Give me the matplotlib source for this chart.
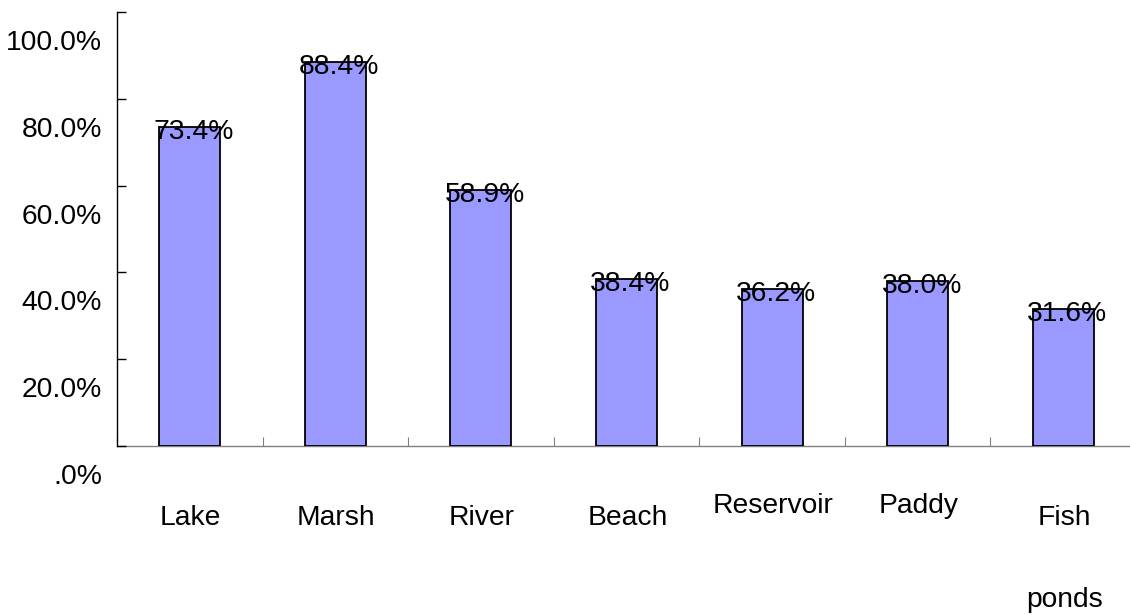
import matplotlib
matplotlib.use('Agg')
import matplotlib.pyplot as plt
import matplotlib.transforms as mtransforms
import numpy as np

categories = ["Lake", "Marsh", "River", "Beach", "Reservoir", "Paddy", "Fish\nponds"]
values = [73.4, 88.4, 58.9, 38.4, 36.2, 38.0, 31.6]
y_ticks = [0, 20, 40, 60, 80, 100]
y_tick_labels = [".0%", "20.0%", "40.0%", "60.0%", "80.0%", "100.0%"]

# per-label vertical nudge (px), the source chart staggers a couple of labels
label_dy = [0, 0, 0, 0, 12, 12, 0]

plt.rcParams['font.family'] = ['Liberation Sans', 'DejaVu Sans']
FS = 20.3
DPI = 100

fig = plt.figure(figsize=(11.3, 6.15), dpi=DPI)
W, H = 1130, 615
left, right, top, bottom = 117, 1136, 12, 446
ax = fig.add_axes([left / W, (H - bottom) / H, (right - left) / W, (bottom - top) / H])

x = np.arange(len(categories))
ax.bar(x, values, width=0.42, color='#9999FF', edgecolor='black', linewidth=1.3, zorder=2)

ax.set_xlim(-0.5, len(categories) - 0.5)
ax.set_ylim(0, 100)

for s in ['top', 'right']:
    ax.spines[s].set_visible(False)
ax.spines['left'].set_color('black')
ax.spines['left'].set_linewidth(1.0)
ax.spines['bottom'].set_color('#808080')
ax.spines['bottom'].set_linewidth(1.0)
ax.spines['bottom'].set_zorder(1)

def px(dx, dy):
    return mtransforms.ScaledTranslation(dx / DPI, dy / DPI, fig.dpi_scale_trans)

# y ticks: marks on the axis, labels drawn shifted down like the original
ax.set_yticks(y_ticks)
ax.set_yticklabels([])
ax.tick_params(axis='y', direction='in', length=6.5, width=1.0, color='black')
ylab_tr = mtransforms.blended_transform_factory(ax.transAxes, ax.transData) + px(-15, -31)
for v, lab in zip(y_ticks, y_tick_labels):
    ax.text(0, v, lab, transform=ylab_tr, ha='right', va='center', fontsize=FS)

# x ticks at category boundaries
ax.set_xticks(np.arange(len(categories) + 1) - 0.5)
ax.set_xticklabels([])
ax.tick_params(axis='x', direction='in', length=6.5, width=0.8, color='#808080')

# category labels
for i, lab in enumerate(categories):
    for j, line in enumerate(lab.split("\n")):
        tr = mtransforms.blended_transform_factory(ax.transData, ax.transAxes) + px(1, -79 + label_dy[i] - j * 82)
        ax.text(i, 0, line, transform=tr, ha='center', va='baseline', fontsize=FS)

# value labels
val_tr = ax.transData + px(4, -5)
for i, v in enumerate(values):
    ax.text(i, v, f"{v:.1f}%", transform=val_tr, ha='center', va='center', fontsize=FS, zorder=3)

fig.savefig('out.png', dpi=DPI)
plt.close(fig)
